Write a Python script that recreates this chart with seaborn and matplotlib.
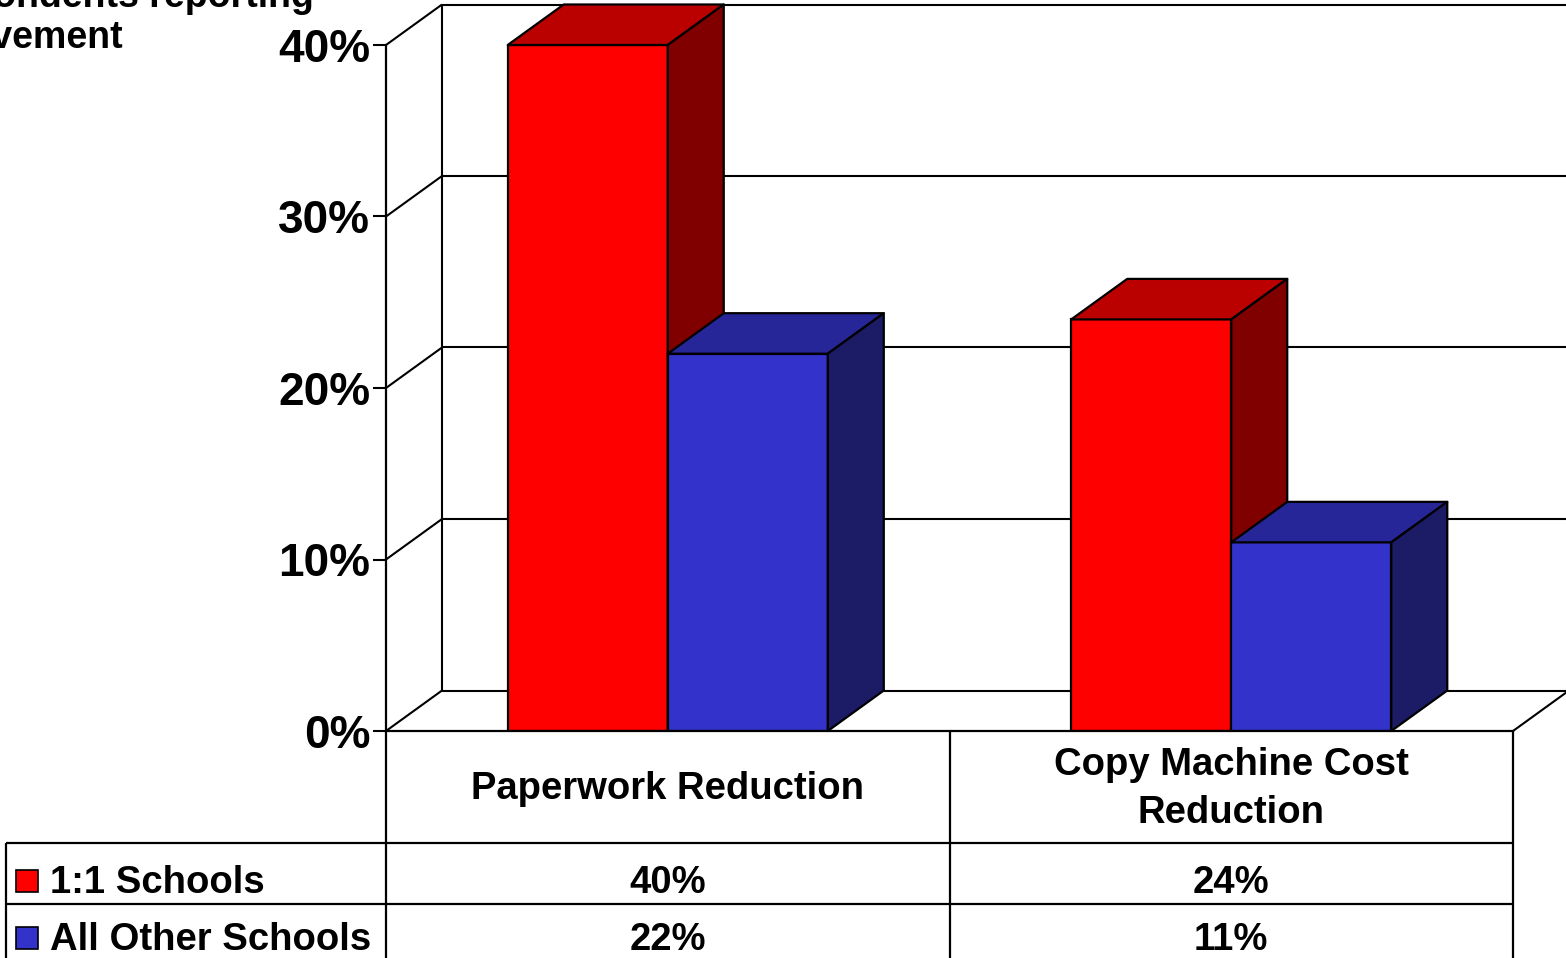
import numpy as np
import pandas as pd
import matplotlib
matplotlib.use("Agg")
import matplotlib.pyplot as plt
from matplotlib.patches import Polygon, Rectangle
from matplotlib.colors import to_hex
from matplotlib.ticker import FuncFormatter
import seaborn as sns

# ---- data ----
categories = ["Paperwork Reduction", "Copy Machine Cost\nReduction"]
series_names = ["1:1 Schools", "All Other Schools"]
one_to_one = [40, 24]
all_other = [22, 11]
y_ticks = [0, 10, 20, 30, 40]
title_lines = ["Percent of respondents reporting", "improvement"]

# ---- styling ----
front_colors = ["#FF0000", "#3333CC"]
top_colors = ["#BB0000", "#262699"]
side_colors = ["#800000", "#1C1C66"]

sns.set_theme(style="white")
plt.rcParams["font.family"] = ["Liberation Sans", "DejaVu Sans"]
plt.rcParams["font.weight"] = "bold"
for key in ["text.color", "axes.labelcolor", "xtick.color", "ytick.color"]:
    plt.rcParams[key] = "black"

W, H = 1566, 958
fig = plt.figure(figsize=(W / 100, H / 100), dpi=100)
fig.patch.set_facecolor("white")

# front plane of the plot in pixel layout
X0, X1 = 386, 1513
Y0, Y40 = 731, 45
ax = fig.add_axes([X0 / W, (H - Y0) / H, (X1 - X0) / W, (Y0 - Y40) / H])
ax.set_facecolor("none")

rows = []
for s, vals in zip(series_names, [one_to_one, all_other]):
    for c, v in zip(categories, vals):
        rows.append({"category": c, "series": s, "value": v})
df = pd.DataFrame(rows)

sns.barplot(data=df, x="category", y="value", hue="series",
            order=categories, hue_order=series_names,
            palette=front_colors, saturation=1, width=0.568,
            edgecolor="black", linewidth=1.6, legend=False, ax=ax)

ax.set_xlim(-0.5, 1.5)
ax.set_ylim(0, 40)
ax.set_xlabel("")
ax.set_ylabel("")
ax.set_xticks([])
ax.set_yticks(y_ticks)
ax.yaxis.set_major_formatter(FuncFormatter(lambda v, _: f"{v:.0f}%"))
ax.tick_params(axis="y", left=True, length=9.4, width=1.5, pad=2,
               labelsize=33, colors="black")
for lab in ax.get_yticklabels():
    lab.set_fontweight("bold")
for side in ["top", "right"]:
    ax.spines[side].set_visible(False)
for side in ["left", "bottom"]:
    ax.spines[side].set_color("black")
    ax.spines[side].set_linewidth(1.6)
    ax.spines[side].set_zorder(6)

# depth offset of the pseudo-3D box, in data units
px_per_x = (X1 - X0) / 2.0
px_per_y = (Y0 - Y40) / 40.0
DX = 56 / px_per_x
DY = 40.5 / px_per_y
x_right = (W + 10 - X0) / px_per_x - 0.5

line_kw = dict(color="black", lw=1.5, clip_on=False, solid_capstyle="butt")
# back wall gridlines and side wall diagonals
for v in y_ticks:
    ax.plot([-0.5 + DX, x_right], [v + DY, v + DY], zorder=1, **line_kw)
    ax.plot([-0.5, -0.5 + DX], [v, v + DY], zorder=1, **line_kw)
ax.plot([-0.5 + DX, -0.5 + DX], [DY, 40 + DY], zorder=1, **line_kw)
ax.plot([1.5, 1.5 + DX], [0, DY], zorder=1, **line_kw)

# top and side faces for each bar
hex_front = [to_hex(c).lower() for c in front_colors]
for p in list(ax.patches):
    j = hex_front.index(to_hex(p.get_facecolor()).lower())
    x0, w, h = p.get_x(), p.get_width(), p.get_height()
    z = 3 + j
    p.set_zorder(z)
    top = Polygon([(x0, h), (x0 + DX, h + DY), (x0 + w + DX, h + DY), (x0 + w, h)],
                  closed=True, facecolor=top_colors[j], edgecolor="black",
                  lw=1.6, zorder=z, clip_on=False, joinstyle="round")
    side = Polygon([(x0 + w, 0), (x0 + w + DX, DY), (x0 + w + DX, h + DY), (x0 + w, h)],
                   closed=True, facecolor=side_colors[j], edgecolor="black",
                   lw=1.6, zorder=z, clip_on=False, joinstyle="round")
    ax.add_patch(top)
    ax.add_patch(side)

# ---- overlay in pixel coordinates: data table and heading ----
ov = fig.add_axes([0, 0, 1, 1])
ov.set_xlim(0, W)
ov.set_ylim(H, 0)
ov.axis("off")
ov.set_zorder(5)

tkw = dict(color="black", lw=1.6, solid_capstyle="butt")
n = len(categories)
col_w = (X1 - X0) / n
col_edges = [X0 + i * col_w for i in range(n + 1)]
row_tops = [843, 904]
row_bottom = H + 5
left_x = 6
for xe in col_edges:
    ov.plot([xe, xe], [Y0, row_bottom], **tkw)
for yr in row_tops:
    ov.plot([left_x, X1], [yr, yr], **tkw)
ov.plot([left_x, left_x], [row_tops[0], row_bottom], **tkw)

fs = 27.5
for i, cat in enumerate(categories):
    cx = X0 + (i + 0.5) * col_w
    ov.text(cx, 789, cat, ha="center", va="center", fontsize=fs,
            fontweight="bold", linespacing=1.42, multialignment="center",
            color="black")

baselines = [893, 950]
for r, (name, vals) in enumerate(zip(series_names, [one_to_one, all_other])):
    yb = baselines[r]
    ov.add_patch(Rectangle((16, yb - 23), 22, 22, facecolor=front_colors[r],
                           edgecolor="black", lw=1.2))
    ov.text(50, yb, name, ha="left", va="baseline", fontsize=fs,
            fontweight="bold", color="black")
    for i, v in enumerate(vals):
        cx = X0 + (i + 0.5) * col_w
        ov.text(cx, yb, f"{v}%", ha="center", va="baseline", fontsize=fs,
                fontweight="bold", color="black")

ov.text(314, 7, title_lines[0], ha="right", va="baseline", fontsize=27,
        fontweight="bold", color="black")
ov.text(123, 48, title_lines[1], ha="right", va="baseline", fontsize=27,
        fontweight="bold", color="black")

fig.savefig("out.png", dpi=100)
